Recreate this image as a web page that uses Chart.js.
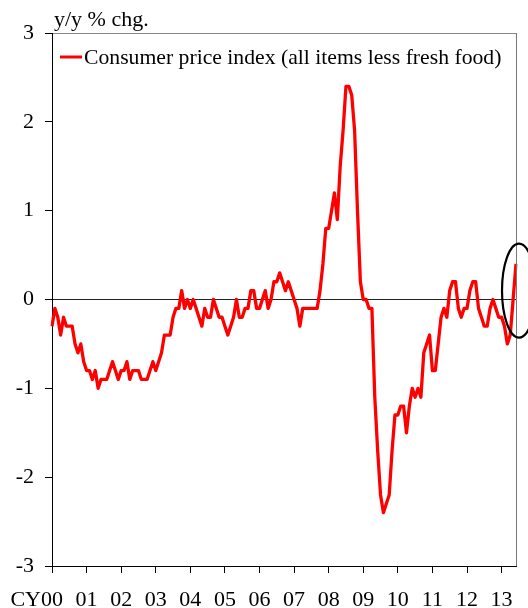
<!DOCTYPE html>
<html>
<head>
<meta charset="utf-8">
<script src="https://cdn.jsdelivr.net/npm/chart.js@4.4.1/dist/chart.umd.min.js"></script>
<style>
  html, body { margin: 0; padding: 0; background: #fff; }
</style>
</head>
<body>
<canvas id="myChart" width="528" height="608"></canvas>
<script>
// year labels on the x axis
const years = ["00", "01", "02", "03", "04", "05", "06", "07", "08", "09", "10", "11", "12", "13"];

// core CPI (all items less fresh food), y/y % chg., monthly
const cpi2000 = [-0.3, -0.1, -0.2, -0.4, -0.2, -0.3, -0.3, -0.3, -0.5, -0.6, -0.5, -0.7];
const cpi2001 = [-0.8, -0.8, -0.9, -0.8, -1.0, -0.9, -0.9, -0.9, -0.8, -0.7, -0.8, -0.9];
const cpi2002 = [-0.8, -0.8, -0.7, -0.9, -0.8, -0.8, -0.8, -0.9, -0.9, -0.9, -0.8, -0.7];
const cpi2003 = [-0.8, -0.7, -0.6, -0.4, -0.4, -0.4, -0.2, -0.1, -0.1, 0.1, -0.1, 0.0];
const cpi2004 = [-0.1, 0.0, -0.1, -0.2, -0.3, -0.1, -0.2, -0.2, 0.0, -0.1, -0.2, -0.2];
const cpi2005 = [-0.3, -0.4, -0.3, -0.2, 0.0, -0.2, -0.2, -0.1, -0.1, 0.1, 0.1, -0.1];
const cpi2006 = [-0.1, 0.0, 0.1, -0.1, 0.0, 0.2, 0.2, 0.3, 0.2, 0.1, 0.2, 0.1];
const cpi2007 = [0.0, -0.1, -0.3, -0.1, -0.1, -0.1, -0.1, -0.1, -0.1, 0.1, 0.4, 0.8];
const cpi2008 = [0.8, 1.0, 1.2, 0.9, 1.5, 1.9, 2.4, 2.4, 2.3, 1.9, 1.0, 0.2];
const cpi2009 = [0.0, 0.0, -0.1, -0.1, -1.1, -1.7, -2.2, -2.4, -2.3, -2.2, -1.7, -1.3];
const cpi2010 = [-1.3, -1.2, -1.2, -1.5, -1.2, -1.0, -1.1, -1.0, -1.1, -0.6, -0.5, -0.4];
const cpi2011 = [-0.8, -0.8, -0.5, -0.2, -0.1, -0.2, 0.1, 0.2, 0.2, -0.1, -0.2, -0.1];
const cpi2012 = [-0.1, 0.1, 0.2, 0.2, -0.1, -0.2, -0.3, -0.3, -0.1, 0.0, -0.1, -0.2];
const cpi2013 = [-0.2, -0.3, -0.5, -0.4, 0.0, 0.4];

const yTicks = [-3, -2, -1, 0, 1, 2, 3];

const cpi = [].concat(cpi2000, cpi2001, cpi2002, cpi2003, cpi2004, cpi2005, cpi2006,
  cpi2007, cpi2008, cpi2009, cpi2010, cpi2011, cpi2012, cpi2013);

// one category per month, "yy-m"
const months = cpi.map((v, i) => years[Math.floor(i / 12)] + "-" + (i % 12 + 1));

const serif = "'Liberation Serif', 'Times New Roman', serif";

// frame, legend, unit label, "CY" prefix and the ellipse
const extras = {
  id: "extras",
  afterDraw(chart) {
    const { ctx, chartArea: a, scales } = chart;
    ctx.save();

    // right edge of the frame
    ctx.strokeStyle = "#777";
    ctx.lineWidth = 1;
    ctx.beginPath();
    ctx.moveTo(a.right + 0.5, a.top);
    ctx.lineTo(a.right + 0.5, a.bottom);
    ctx.stroke();

    // unit label
    ctx.fillStyle = "#000";
    ctx.font = "22px " + serif;
    ctx.textAlign = "left";
    ctx.textBaseline = "alphabetic";
    ctx.fillText("y/y % chg.", a.left + 2, a.top - 7);

    // legend
    const ds = chart.data.datasets[0];
    ctx.strokeStyle = ds.borderColor;
    ctx.lineWidth = 3;
    ctx.beginPath();
    ctx.moveTo(a.left + 8, a.top + 24);
    ctx.lineTo(a.left + 30, a.top + 24);
    ctx.stroke();
    ctx.font = "21.7px " + serif;
    ctx.fillText(ds.label, a.left + 32, a.top + 31);

    // "CY" in front of the first year label
    ctx.font = "22px " + serif;
    ctx.textAlign = "right";
    ctx.textBaseline = "top";
    const x0 = scales.x.getPixelForValue(0) - ctx.measureText("00").width / 2;
    ctx.fillText("CY", x0, a.bottom + 23);

    // ellipse round the latest reading
    const last = cpi.length - 1;
    const cx = scales.x.getPixelForValue(last) + 3;
    const cy = scales.y.getPixelForValue(0.1);
    ctx.strokeStyle = "#000";
    ctx.lineWidth = 2.2;
    ctx.beginPath();
    ctx.ellipse(cx, cy, 17, 47, 0, 0, Math.PI * 2);
    ctx.stroke();

    ctx.restore();
  }
};

const ctx = document.getElementById("myChart");

const myChart = new Chart(ctx, {
  type: "line",
  data: {
    labels: months,
    datasets: [
      {
        label: "Consumer price index (all items less fresh food)",
        data: cpi,
        borderColor: "#ff0000",
        borderWidth: 3.3,
        borderJoinStyle: "round",
        pointRadius: 0,
        tension: 0,
      },
    ],
  },
  options: {
    responsive: false,
    animation: false,
    devicePixelRatio: 1,
    layout: { padding: { top: 33, right: 12, left: 0, bottom: 0 } },
    plugins: {
      legend: { display: false },
      tooltip: { enabled: false },
    },
    scales: {
      x: {
        offset: false,
        grid: {
          drawOnChartArea: false,
          tickLength: 7,
          tickColor: "#000",
        },
        border: { color: "#000", width: 1 },
        ticks: {
          autoSkip: false,
          maxRotation: 0,
          padding: 14,
          color: "#000",
          font: { family: serif, size: 22 },
          callback: function (value, index) {
            if (index % 12 !== 0) return null;
            return years[index / 12];
          },
        },
        afterFit(scale) {
          scale.height = 42;
        },
      },
      y: {
        min: yTicks[0],
        max: yTicks[yTicks.length - 1],
        afterBuildTicks(scale) {
          scale.ticks = yTicks.map((v) => ({ value: v }));
        },
        grid: {
          tickLength: 7,
          tickColor: "#000",
          color: (c) => (c.tick.value === 0 ? "#222" : c.tick.value === 3 ? "#888" : "transparent"),
        },
        border: { color: "#000", width: 1 },
        ticks: {
          padding: 11,
          color: "#000",
          font: { family: serif, size: 22 },
        },
        afterFit(scale) {
          scale.width = 52;
        },
      },
    },
  },
  plugins: [extras],
});
</script>
</body>
</html>
